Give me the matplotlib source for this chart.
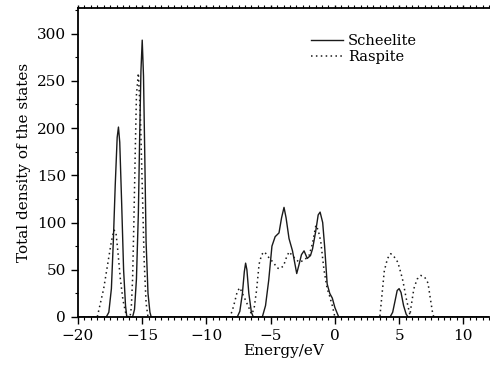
import matplotlib
matplotlib.use("Agg")
import matplotlib.pyplot as plt
from matplotlib.ticker import MultipleLocator

# Scheelite (solid line)
sch_e = [-20, -17.8, -17.6, -17.4, -17.25, -17.1, -16.95, -16.85, -16.75, -16.6, -16.45, -16.3, -16.2,
         -15.75, -15.6, -15.45, -15.3, -15.2, -15.1, -15.0, -14.9, -14.8, -14.7, -14.55, -14.4, -14.3,
         -7.6, -7.4, -7.2, -7.05, -6.95, -6.85, -6.7, -6.5, -6.35,
         -5.65, -5.4, -5.15, -4.9, -4.65, -4.35, -4.15, -3.96, -3.8, -3.57, -3.3, -2.97, -2.8, -2.6,
         -2.4, -2.15, -1.9, -1.74, -1.5, -1.3, -1.15, -0.95, -0.8, -0.6, -0.4, -0.2, 0.0, 0.3,
         4.3, 4.5, 4.7, 4.85, 5.0, 5.15, 5.35, 5.55, 5.7, 12]
sch_dos = [0, 0, 5, 30, 80, 140, 190, 201, 185, 120, 50, 12, 0,
           0, 8, 40, 110, 190, 260, 293, 255, 170, 80, 25, 5, 0,
           0, 6, 25, 48, 57, 50, 25, 5, 0,
           0, 12, 39, 75, 85, 89, 105, 116, 105, 83, 70, 46, 55, 66,
           70, 62, 65, 72, 90, 108, 111, 100, 75, 35, 25, 20, 10, 0,
           0, 5, 18, 28, 30, 26, 12, 3, 0, 0]

# Raspite (dotted line)
ras_e = [-20, -18.5, -18.3, -18.0, -17.7, -17.4, -17.2, -17.05, -16.9, -16.7, -16.5, -16.3, -16.1,
         -15.95, -15.85, -15.75, -15.65, -15.55, -15.45, -15.3, -15.15, -15.0, -14.85, -14.7, -14.55,
         -8.2, -8.0, -7.8, -7.6, -7.4, -7.2, -6.9, -6.7, -6.5,
         -6.3, -6.1, -5.9, -5.7, -5.5, -5.3, -5.1, -4.8, -4.5, -4.3, -4.0, -3.8, -3.57, -3.18, -2.79,
         -2.4, -2.01, -1.74, -1.48, -1.3, -1.1, -0.85, -0.6, -0.45, -0.2, 0.0,
         3.5, 3.55, 3.85, 4.1, 4.35, 4.6, 4.9, 5.15, 5.3, 5.55, 5.8, 5.85,
         5.9, 6.15, 6.4, 6.7, 7.0, 7.25, 7.45, 7.6, 7.7, 12]
ras_dos = [0, 0, 12, 30, 55, 80, 92, 90, 70, 40, 18, 5, 0,
           0, 10, 40, 100, 170, 235, 258, 215, 140, 60, 15, 0,
           0, 6, 16, 27, 31, 25, 16, 10, 3,
           8, 28, 56, 66, 69, 66, 62, 58, 52, 51, 54, 62, 69, 63, 58,
           60, 65, 78, 97, 92, 80, 50, 30, 24, 12, 0,
           0, 7, 49, 62, 67, 64, 58, 46, 38, 20, 5, 2,
           8, 30, 40, 44, 42, 36, 18, 5, 0, 0]

plt.rcParams['font.family'] = 'DejaVu Serif'
plt.rcParams['font.size'] = 11

fig = plt.figure(figsize=(4.9, 3.67), dpi=100)
ax = fig.add_axes([78 / 490, 50 / 367, 411 / 490, 309 / 367])

ax.plot(sch_e, sch_dos, color='#1a1a1a', lw=1.0, label='Scheelite')
ax.plot(ras_e, ras_dos, color='#1a1a1a', lw=1.1, linestyle=(0, (1, 2.2)), label='Raspite')

ax.set_xlim(-20, 12)
ax.set_ylim(0, 327)
ax.xaxis.set_major_locator(MultipleLocator(5))
ax.xaxis.set_minor_locator(MultipleLocator(0.5))
ax.yaxis.set_major_locator(MultipleLocator(50))
ax.yaxis.set_minor_locator(MultipleLocator(25))
ax.tick_params(which='major', direction='out', length=5, width=1)
ax.tick_params(which='minor', direction='out', length=2.5, width=0.8)
# top axis carries short inward ticks, no labels
ax.tick_params(axis='x', which='both', top=True, labeltop=False)
ax.xaxis.set_tick_params(which='both', direction='out', bottom=True)
for tl in ax.xaxis.get_majorticklines()[1::2] + ax.xaxis.get_minorticklines()[1::2]:
    tl.set_markersize(2)
ax.spines['right'].set_visible(False)
for s in ['left', 'bottom', 'top']:
    ax.spines[s].set_linewidth(1.3)

ax.set_xlabel('Energy/eV', labelpad=1)
ax.set_ylabel('Total density of the states', labelpad=4)

ax.legend(loc='upper left', bbox_to_anchor=(304 / 490, 1 - 27 / 367), bbox_transform=fig.transFigure,
          frameon=False, borderpad=0, handlelength=2.2, handletextpad=0.3, labelspacing=0.1,
          fontsize=10.5)

fig.savefig('out.png', dpi=100)
